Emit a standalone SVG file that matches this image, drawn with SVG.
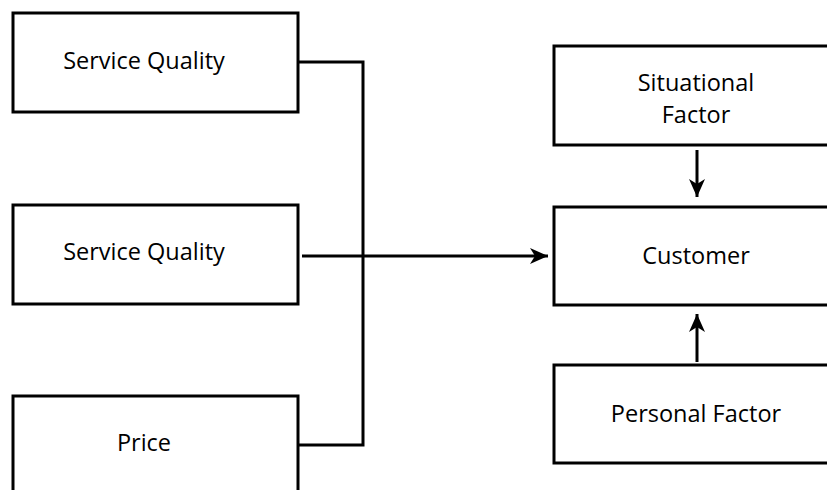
<svg xmlns="http://www.w3.org/2000/svg" width="827" height="490" viewBox="0 0 827 490">
<defs>
<style>
.box{fill:#fff;stroke:#000;stroke-width:3}
.lbl{font-family:"Open Sans","Liberation Sans",sans-serif;font-size:23.5px;fill:#000;text-anchor:middle}
.conn{fill:none;stroke:#000;stroke-width:3}
</style>
<marker id="ah" markerWidth="18" markerHeight="16" viewBox="0 0 18 16" refX="18" refY="8" orient="auto" markerUnits="userSpaceOnUse">
<path d="M0,0 L18,8 L0,16 L5,8 Z" fill="#000"/>
</marker>
</defs>
<rect width="827" height="490" fill="#fff"/>
<g id="sq1"><rect class="box" x="13" y="13" width="285" height="99"/><text class="lbl" x="144" y="69">Service Quality</text></g>
<g id="sq2"><rect class="box" x="13" y="205" width="285" height="99"/><text class="lbl" x="144" y="260">Service Quality</text></g>
<g id="price"><rect class="box" x="13" y="396" width="285" height="110"/><text class="lbl" x="144" y="451">Price</text></g>
<g id="situational"><rect class="box" x="554" y="46" width="290" height="99"/><text class="lbl" x="696" y="91">Situational</text><text class="lbl" x="696" y="123">Factor</text></g>
<g id="customer"><rect class="box" x="554" y="207" width="290" height="98"/><text class="lbl" x="696" y="264">Customer</text></g>
<g id="personal"><rect class="box" x="554" y="365" width="290" height="98"/><text class="lbl" x="696" y="422">Personal Factor</text></g>
<g id="connectors">
<polyline class="conn" points="298,62 363,62 363,445 298,445"/>
<line class="conn" x1="302" y1="256" x2="548" y2="256" marker-end="url(#ah)"/>
<line class="conn" x1="697" y1="150" x2="697" y2="197" marker-end="url(#ah)"/>
<line class="conn" x1="697" y1="362" x2="697" y2="314" marker-end="url(#ah)"/>
</g>
</svg>
